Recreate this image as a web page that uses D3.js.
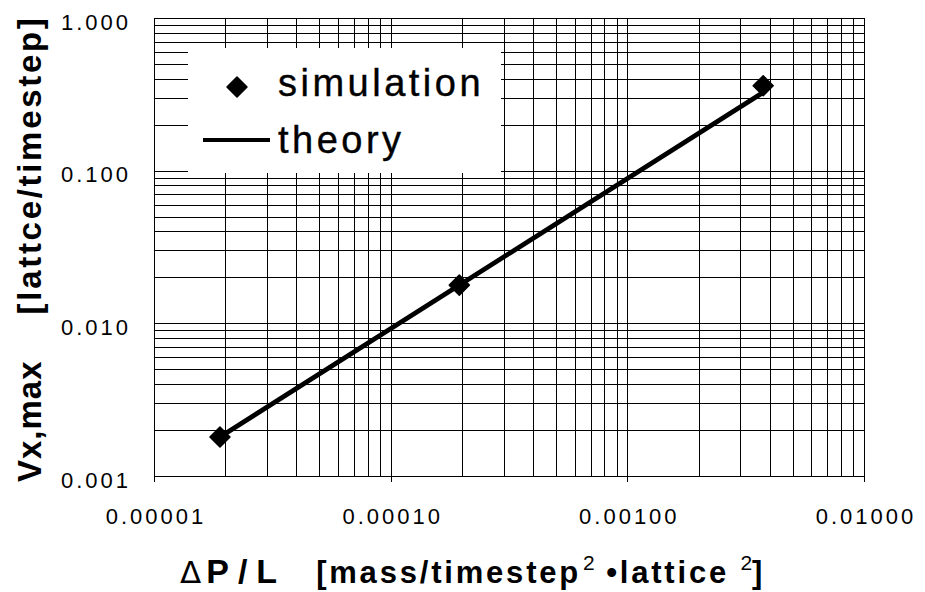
<!DOCTYPE html>
<html>
<head>
<meta charset="utf-8">
<script src="https://cdn.jsdelivr.net/npm/d3@7"></script>
<style>
  html, body { margin: 0; padding: 0; background: #fff; }
  svg { display: block; font-family: "Liberation Sans", Arial, Helvetica, sans-serif; }
</style>
</head>
<body>
<svg id="chart" width="925" height="592"></svg>
<script>
// Pressure gradient vs. peak velocity (log-log)
const xDomain = [1e-5, 1e-2];
const yDomain = [1e-3, 1];
const xMajor = [1e-5, 1e-4, 1e-3, 1e-2];
const yMajor = [1e-3, 1e-2, 1e-1, 1];
const xTickLabels = ["0.00001", "0.00010", "0.00100", "0.01000"];
const yTickLabels = ["0.001", "0.010", "0.100", "1.000"];

// simulation results
const simX = [1.9e-5, 1.95e-4, 3.75e-3];
const simY = [0.0018, 0.0178, 0.36];
// analytic prediction
const theoryX = [1.9e-5, 3.8e-3];
const theoryY = [0.0018, 0.33];

const legendLabels = ["simulation", "theory"];

const svg = d3.select("#chart");
const plot = { left: 154, right: 864, top: 18, bottom: 476 };

const x = d3.scaleLog().domain(xDomain).range([plot.left, plot.right]);
const y = d3.scaleLog().domain(yDomain).range([plot.bottom, plot.top]);

// grid lines at every 1..9 x 10^k
const gridX = svg.append("g")
  .attr("transform", `translate(0,${plot.bottom})`)
  .call(d3.axisBottom(x).tickValues(x.ticks()).tickSize(-(plot.bottom - plot.top)).tickFormat(""));
const gridY = svg.append("g")
  .attr("transform", `translate(${plot.left},0)`)
  .call(d3.axisLeft(y).tickValues(y.ticks()).tickSize(-(plot.right - plot.left)).tickFormat(""));
[gridX, gridY].forEach(g => {
  g.select(".domain").remove();
  g.selectAll(".tick line").attr("stroke", "#000").attr("stroke-width", 1).attr("shape-rendering", "crispEdges");
});

// frame
svg.append("rect")
  .attr("x", plot.left).attr("y", plot.top)
  .attr("width", plot.right - plot.left).attr("height", plot.bottom - plot.top)
  .attr("fill", "none").attr("stroke", "#000").attr("stroke-width", 1)
  .attr("shape-rendering", "crispEdges");

// short outward ticks under the decades
svg.append("g")
  .attr("transform", `translate(0,${plot.bottom})`)
  .call(d3.axisBottom(x).tickValues(xMajor).tickSize(6).tickFormat(""))
  .call(g => g.select(".domain").remove())
  .selectAll(".tick line").attr("stroke", "#000").attr("shape-rendering", "crispEdges");

// tick labels
const xAxis = svg.append("g")
  .attr("transform", `translate(0,${plot.bottom})`)
  .call(d3.axisBottom(x).tickValues(xMajor).tickSize(0).tickPadding(32)
    .tickFormat((d, i) => xTickLabels[i]));
xAxis.select(".domain").remove();
xAxis.attr("font-size", 22).attr("font-family", "'Liberation Sans', Arial, sans-serif");
xAxis.selectAll("text")
  .attr("fill", "#000")
  .attr("letter-spacing", 3).attr("dx", 1.5);

const yAxis = svg.append("g")
  .attr("transform", `translate(${plot.left},0)`)
  .call(d3.axisLeft(y).tickValues(yMajor).tickSize(0).tickPadding(23)
    .tickFormat((d, i) => yTickLabels[i]));
yAxis.select(".domain").remove();
yAxis.attr("font-size", 22).attr("font-family", "'Liberation Sans', Arial, sans-serif");
yAxis.selectAll("text")
  .attr("fill", "#000")
  .attr("letter-spacing", 3).attr("dy", "0.32em").attr("y", 4);

// legend box hides the grid behind it
const legend = svg.append("g");
legend.append("rect")
  .attr("x", 188).attr("y", 48).attr("width", 313).attr("height", 125)
  .attr("fill", "#fff");

const diamond = d3.symbol().type(d3.symbolSquare).size(200);

legend.append("path")
  .attr("d", diamond)
  .attr("transform", "translate(237,87) rotate(45)")
  .attr("fill", "#000").attr("stroke", "#000").attr("stroke-width", 1.5).attr("stroke-linejoin", "round");
legend.append("line")
  .attr("x1", 203).attr("x2", 270).attr("y1", 140).attr("y2", 140)
  .attr("stroke", "#000").attr("stroke-width", 4);
legend.selectAll("text.lg")
  .data(legendLabels)
  .join("text")
  .attr("class", "lg")
  .attr("x", 278)
  .attr("y", (d, i) => i === 0 ? 96 : 153)
  .attr("font-size", 38).attr("letter-spacing", 3.5).attr("fill", "#000")
  .attr("stroke", "#000").attr("stroke-width", 0.4)
  .text(d => d);

// theory line
const line = d3.line().x(d => x(d[0])).y(d => y(d[1]));
svg.append("path")
  .datum(theoryX.map((v, i) => [v, theoryY[i]]))
  .attr("d", line)
  .attr("fill", "none").attr("stroke", "#000").attr("stroke-width", 4.8).attr("stroke-linecap", "round");

// simulation markers
svg.selectAll("path.sim")
  .data(simX.map((v, i) => [v, simY[i]]))
  .join("path")
  .attr("class", "sim")
  .attr("d", diamond)
  .attr("transform", d => `translate(${x(d[0])},${y(d[1])}) rotate(45)`)
  .attr("fill", "#000").attr("stroke", "#000").attr("stroke-width", 1.5).attr("stroke-linejoin", "round");

// axis titles
const yTitle = svg.append("text")
  .attr("transform", "translate(41,482) rotate(-90)")
  .attr("font-weight", "bold").attr("font-size", 33).attr("fill", "#000");
yTitle.append("tspan").attr("letter-spacing", 1).text("Vx,max");
yTitle.append("tspan").attr("dx", 46).attr("letter-spacing", 2.7).text("[lattce/timestep]");

const xTitle = svg.append("text")
  .attr("x", 180).attr("y", 583)
  .attr("fill", "#000");
xTitle.append("tspan").attr("font-family", "'DejaVu Sans', sans-serif").attr("font-size", 31).text("Δ");
xTitle.append("tspan").attr("font-weight", "bold").attr("font-size", 34).attr("letter-spacing", 9).attr("dx", 5).text("P/L");
xTitle.append("tspan").attr("font-weight", "bold").attr("font-size", 31).attr("letter-spacing", 2.8).attr("dx", 30).text("[mass/timestep");
xTitle.append("tspan").attr("font-size", 21).attr("dy", -13).attr("dx", 2).text("2");
xTitle.append("tspan").attr("font-weight", "bold").attr("font-size", 31).attr("letter-spacing", 2.8).attr("dy", 13).text(" •lattice ");
xTitle.append("tspan").attr("font-size", 21).attr("dy", -13).text("2");
xTitle.append("tspan").attr("font-weight", "bold").attr("font-size", 31).attr("dy", 13).text("]");
</script>
</body>
</html>
